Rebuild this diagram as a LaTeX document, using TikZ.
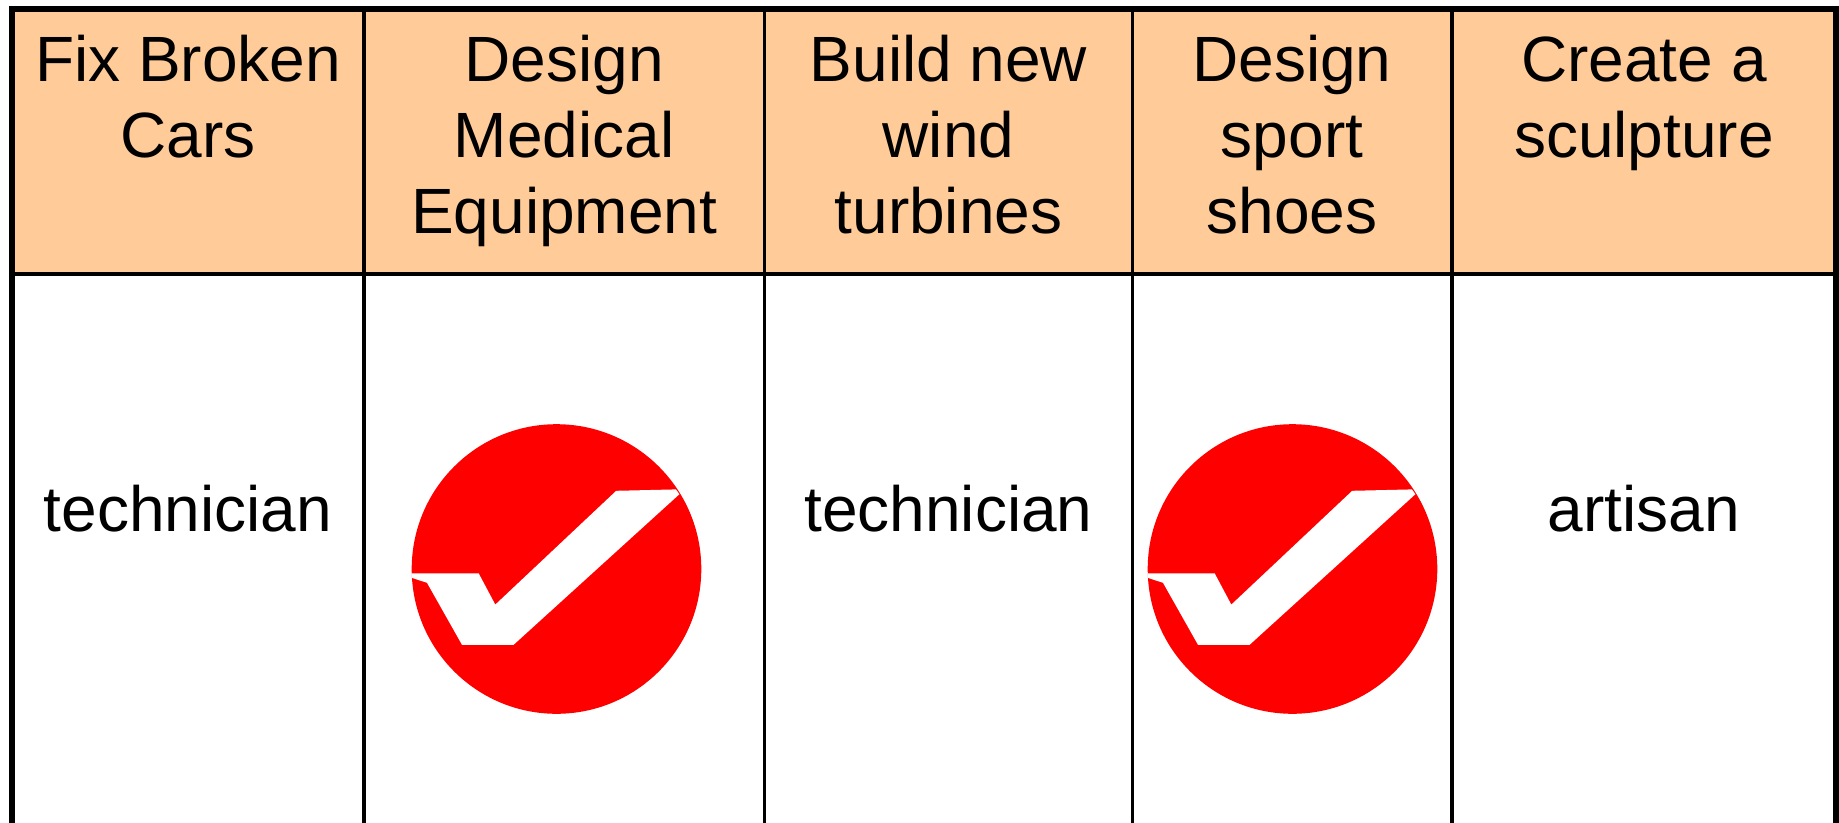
\documentclass[tikz,border=0pt]{standalone}
\usepackage{fontspec}
\setmainfont{Liberation Sans}
\definecolor{peach}{RGB}{255,204,153}
\definecolor{chkred}{RGB}{255,0,0}
\tikzset{
  hdr/.style={anchor=base, align=center, inner sep=0pt, font=\fontsize{64}{76}\selectfont},
  bodytxt/.style={anchor=base, inner sep=0pt, font=\fontsize{64}{76}\selectfont},
  outerrule/.style={line width=5.6pt, line join=miter},
  innerrule/.style={line width=3.2pt},
  checkmark/.pic={
    \fill[chkred] (0,0) circle (144.8pt);
    \fill[white] (-144.8,4.4) -- (-77.8,4.4) -- (-61.2,35.6) -- (59.7,-78.2)
      -- (119.4,-79.6) -- (122.9,-74.8) -- (-42.9,75.8) -- (-94.5,75.8)
      -- (-129.5,13.8) -- (-144.8,8.8) -- cycle;
  }
}
\begin{document}
\begin{tikzpicture}[x=1pt, y=-1pt]
  \useasboundingbox (0,0) rectangle (1839,822);
  \clip (0,0) rectangle (1839,822);
  % header fill
  \fill[peach] (12,9) rectangle (1836,274);
  % grid
  \coordinate (tl) at (12,9.2);
  \coordinate (tr) at (1836,9.2);
  \coordinate (bl) at (12,840);
  \coordinate (br) at (1836,840);
  \draw[innerrule] (12,274) -- (1836,274);
  \foreach \cx in {364,764.5,1132.5,1452}
    \draw[innerrule] (\cx,9) -- (\cx,840);
  \draw[outerrule] (bl) -- (tl) -- (tr) -- (br);
  % header texts (anchor = baseline of the last line)
  \node[hdr] (h1) at (188,157) {Fix Broken\\Cars};
  \node[hdr] (h2) at (564.2,233) {Design\\Medical\\Equipment};
  \node[hdr] (h3) at (948.5,233) {Build new\\wind\\turbines};
  \node[hdr] (h4) at (1292,233) {Design\\sport\\shoes};
  \node[hdr] (h5) at (1644,157) {Create a\\sculpture};
  % body
  \node[bodytxt] (b1) at (188,531) {technician};
  \pic (b2) at (556.5,569) {checkmark};
  \node[bodytxt] (b3) at (948.5,531) {technician};
  \pic (b4) at (1292.5,569) {checkmark};
  \node[bodytxt] (b5) at (1644,531) {artisan};
\end{tikzpicture}
\end{document}
